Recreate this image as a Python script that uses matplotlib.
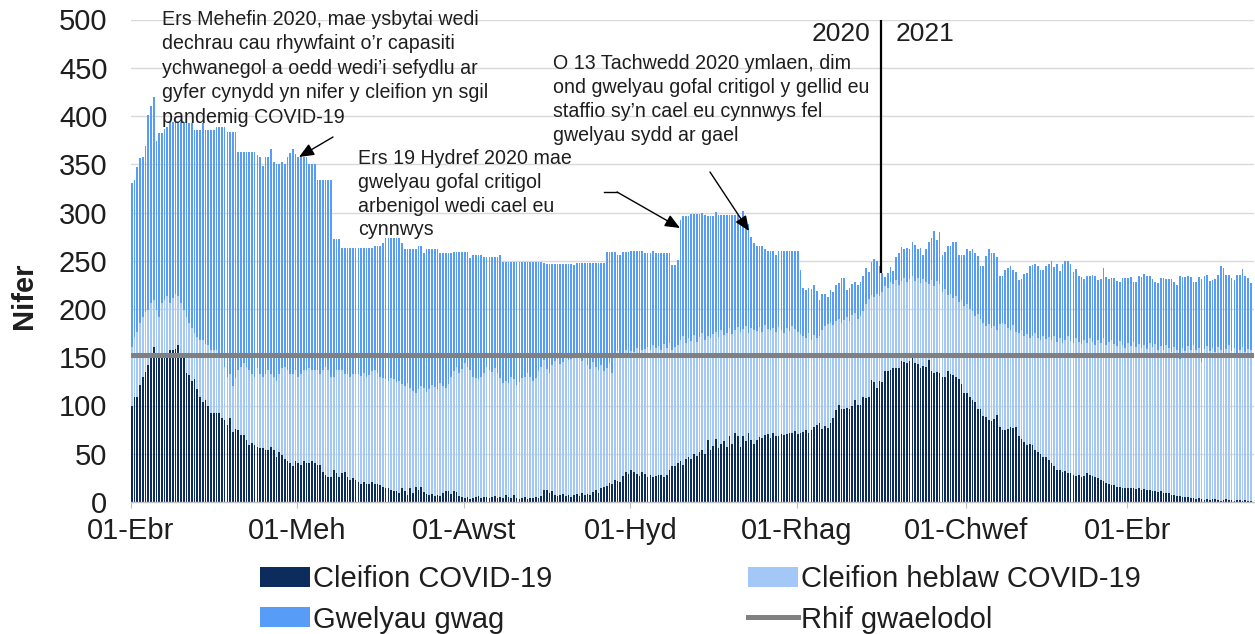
import datetime as dt
import numpy as np
import matplotlib
matplotlib.use("Agg")
import matplotlib.pyplot as plt
from matplotlib.patches import Patch, FancyArrowPatch
from matplotlib.lines import Line2D

plt.rcParams["font.family"] = ["Liberation Sans", "DejaVu Sans"]

# ---------------- data (daily, from 1 April 2020) ----------------
start_date = dt.date(2020, 4, 1)

covid = [
    99, 109, 109, 121, 130, 135, 142, 150, 161, 152,
    150, 150, 150, 150, 157, 157, 159, 163, 150, 150,
    134, 132, 125, 127, 117, 109, 104, 106, 99, 92,
    92, 92, 92, 87, 85, 80, 87, 73, 76, 75,
    69, 69, 64, 59, 61, 59, 57, 56, 56, 54,
    54, 57, 54, 47, 52, 49, 45, 43, 40, 37,
    42, 40, 38, 43, 40, 40, 43, 40, 38, 38,
    31, 28, 26, 26, 33, 30, 26, 30, 31, 26,
    23, 25, 23, 21, 19, 21, 19, 19, 21, 19,
    19, 18, 16, 14, 14, 12, 11, 11, 9, 14,
    11, 7, 14, 9, 16, 12, 16, 10, 8, 7,
    8, 6, 7, 6, 9, 11, 11, 8, 11, 10,
    6, 5, 4, 5, 3, 4, 5, 6, 4, 5,
    5, 4, 5, 6, 4, 5, 4, 7, 5, 4,
    7, 4, 3, 4, 5, 3, 4, 4, 5, 4,
    6, 12, 12, 9, 11, 7, 6, 7, 8, 6,
    7, 5, 7, 8, 6, 9, 7, 8, 7, 10,
    12, 9, 14, 16, 17, 20, 19, 23, 22, 21,
    27, 31, 29, 33, 31, 29, 27, 31, 29, 26,
    28, 26, 27, 28, 28, 26, 28, 33, 37, 37,
    40, 42, 38, 45, 47, 45, 50, 48, 52, 54,
    50, 64, 54, 58, 65, 56, 60, 63, 57, 68,
    60, 71, 68, 57, 68, 63, 71, 64, 60, 64,
    67, 66, 69, 70, 66, 71, 68, 68, 70, 69,
    70, 72, 71, 74, 70, 71, 73, 75, 71, 75,
    78, 80, 82, 76, 79, 77, 82, 87, 95, 101,
    96, 96, 97, 96, 100, 106, 101, 101, 109, 108,
    109, 126, 124, 118, 125, 124, 136, 136, 137, 139,
    139, 139, 146, 145, 144, 146, 149, 144, 143, 139,
    141, 140, 147, 136, 134, 135, 134, 130, 130, 136,
    133, 132, 130, 127, 122, 113, 113, 109, 106, 104,
    96, 96, 89, 88, 85, 84, 86, 90, 78, 75,
    75, 76, 78, 77, 78, 68, 65, 62, 59, 60,
    59, 54, 52, 50, 47, 47, 44, 40, 37, 33,
    33, 31, 32, 30, 30, 28, 27, 28, 26, 27,
    30, 28, 27, 26, 25, 23, 22, 20, 19, 18,
    18, 16, 16, 15, 14, 15, 14, 14, 13, 14,
    12, 13, 12, 12, 11, 11, 10, 11, 9, 9,
    9, 7, 7, 6, 6, 5, 5, 5, 4, 4,
    3, 4, 3, 2, 3, 2, 3, 3, 2, 1,
    2, 3, 2, 2, 1, 2, 2, 1, 2, 1, 1,
]

non_covid = [
    62, 62, 67, 64, 62, 62, 57, 56, 48, 47,
    42, 56, 59, 63, 49, 54, 57, 50, 56, 49,
    58, 53, 55, 48, 54, 59, 64, 58, 64, 66,
    66, 66, 62, 64, 55, 50, 46, 47, 52, 62,
    71, 75, 76, 78, 72, 71, 82, 77, 74, 79,
    83, 76, 76, 78, 81, 90, 95, 94, 93, 96,
    95, 90, 95, 94, 97, 99, 94, 97, 99, 95,
    106, 112, 111, 104, 97, 107, 111, 107, 102, 107,
    107, 108, 110, 112, 112, 113, 111, 113, 115, 118,
    115, 112, 112, 113, 111, 117, 116, 113, 116, 108,
    109, 116, 104, 106, 97, 105, 104, 108, 106, 110,
    113, 113, 110, 117, 111, 107, 111, 122, 125, 130,
    128, 133, 140, 135, 134, 126, 123, 121, 126, 129,
    135, 133, 130, 133, 130, 123, 119, 118, 118, 126,
    120, 117, 121, 124, 125, 131, 126, 121, 124, 132,
    134, 135, 126, 125, 131, 139, 142, 136, 137, 144,
    140, 143, 144, 141, 145, 137, 143, 134, 131, 135,
    128, 128, 128, 120, 122, 124, 115, 129, 134, 130,
    127, 127, 124, 123, 124, 131, 125, 126, 130, 135,
    130, 137, 133, 134, 130, 138, 132, 132, 121, 124,
    123, 126, 134, 120, 123, 122, 123, 118, 119, 121,
    118, 108, 116, 116, 111, 115, 118, 110, 118, 112,
    114, 107, 113, 119, 111, 119, 104, 116, 118, 113,
    114, 110, 114, 109, 112, 109, 108, 113, 108, 106,
    110, 105, 111, 105, 106, 103, 99, 95, 104, 93,
    95, 90, 90, 102, 103, 107, 104, 96, 93, 89,
    90, 93, 95, 92, 94, 90, 89, 92, 89, 97,
    101, 88, 88, 98, 88, 94, 88, 86, 91, 87,
    91, 86, 83, 87, 84, 85, 85, 85, 89, 88,
    90, 88, 79, 94, 90, 94, 92, 88, 91, 78,
    83, 79, 83, 80, 87, 90, 92, 91, 92, 89,
    99, 94, 97, 94, 99, 96, 96, 88, 106, 111,
    109, 104, 100, 106, 98, 107, 113, 110, 115, 110,
    113, 121, 118, 118, 125, 122, 127, 128, 135, 133,
    137, 134, 136, 142, 137, 137, 143, 138, 138, 141,
    135, 142, 139, 137, 143, 142, 148, 143, 147, 150,
    146, 146, 151, 148, 146, 150, 148, 152, 148, 150,
    148, 150, 147, 153, 150, 153, 148, 151, 148, 154,
    151, 148, 154, 152, 142, 155, 151, 157, 154, 159,
    154, 156, 142, 157, 159, 154, 157, 152, 159, 156,
    148, 156, 161, 154, 159, 150, 156, 160, 153, 158, 156,
]

empty_beds = [
    170, 163, 171, 171, 165, 172, 202, 204, 211, 175,
    190, 176, 178, 176, 188, 183, 178, 181, 188, 195,
    209, 208, 213, 210, 214, 217, 225, 222, 223, 228,
    228, 231, 235, 238, 249, 253, 250, 263, 255, 226,
    223, 219, 223, 226, 230, 233, 221, 224, 218, 224,
    220, 233, 222, 225, 217, 213, 210, 220, 229, 233,
    224, 227, 224, 220, 220, 211, 213, 213, 197, 201,
    197, 194, 197, 204, 143, 136, 136, 126, 130, 130,
    133, 130, 130, 130, 132, 129, 133, 131, 127, 128,
    131, 135, 140, 147, 149, 145, 147, 150, 149, 146,
    142, 139, 144, 147, 149, 148, 145, 140, 148, 145,
    141, 143, 145, 135, 138, 140, 136, 128, 123, 119,
    125, 121, 115, 119, 116, 126, 128, 129, 126, 120,
    114, 117, 119, 115, 120, 128, 126, 124, 126, 119,
    122, 128, 125, 121, 119, 115, 119, 124, 120, 113,
    109, 101, 109, 113, 105, 101, 99, 104, 102, 97,
    100, 99, 95, 99, 97, 102, 98, 106, 110, 103,
    108, 111, 106, 112, 120, 115, 125, 107, 100, 105,
    105, 101, 106, 104, 105, 100, 108, 103, 99, 97,
    100, 97, 98, 96, 100, 94, 98, 93, 88, 85,
    88, 124, 124, 131, 126, 131, 125, 132, 127, 125,
    129, 124, 126, 122, 124, 126, 119, 124, 122, 117,
    123, 119, 116, 119, 123, 107, 113, 95, 90, 88,
    84, 89, 79, 81, 82, 80, 80, 79, 82, 85,
    80, 83, 78, 81, 84, 66, 50, 50, 47, 53,
    52, 49, 37, 38, 34, 28, 34, 35, 37, 37,
    46, 43, 28, 34, 32, 32, 35, 35, 36, 37,
    28, 35, 40, 34, 32, 19, 9, 15, 16, 13,
    24, 33, 35, 30, 35, 31, 35, 37, 30, 36,
    25, 34, 43, 44, 57, 43, 54, 38, 38, 51,
    49, 58, 56, 49, 47, 53, 57, 60, 64, 65,
    60, 55, 59, 73, 78, 78, 76, 76, 50, 48,
    56, 62, 67, 57, 62, 55, 53, 64, 63, 75,
    74, 72, 75, 72, 68, 76, 76, 82, 72, 81,
    69, 82, 82, 78, 80, 73, 71, 68, 69, 63,
    69, 64, 69, 71, 62, 66, 72, 70, 65, 64,
    68, 67, 61, 69, 72, 67, 71, 62, 67, 70,
    73, 73, 75, 69, 70, 64, 69, 70, 75, 68,
    71, 76, 67, 67, 86, 73, 77, 72, 75, 65,
    71, 73, 86, 75, 73, 73, 70, 76, 74, 88,
    92, 76, 72, 76, 70, 83, 77, 80, 79, 73, 70,
]

baseline_value = 152

tick_dates = [dt.date(2020, 4, 1), dt.date(2020, 6, 1), dt.date(2020, 8, 1),
              dt.date(2020, 10, 1), dt.date(2020, 12, 1), dt.date(2021, 2, 1),
              dt.date(2021, 4, 1)]
tick_labels = ["01-Ebr", "01-Meh", "01-Awst", "01-Hyd", "01-Rhag", "01-Chwef", "01-Ebr"]
year_split_date = dt.date(2021, 1, 1)

series_labels = ["Cleifion COVID-19", "Cleifion heblaw COVID-19", "Gwelyau gwag",
                 "Rhif gwaelodol"]

# ---------------- styling ----------------
C_COVID = "#0c2c5e"
C_NONCOVID = "#a3c8f8"
C_EMPTY = "#579cf7"
C_BASE = "#808080"
TXT = "#1e1e1e"

W, H = 1255, 634
fig = plt.figure(figsize=(W / 100, H / 100), dpi=100)
ax = fig.add_axes([131 / W, 1 - 502 / H, 1123 / W, (502 - 19.5) / H])

n = len(covid)
x = np.arange(n)
cv = np.array(covid, float)
nc = np.array(non_covid, float)
eb = np.array(empty_beds, float)

bw = 0.62
ax.bar(x, cv, width=bw, align="edge", color=C_COVID, linewidth=0, zorder=2)
ax.bar(x, nc, width=bw, bottom=cv, align="edge", color=C_NONCOVID, linewidth=0, zorder=2)
ax.bar(x, eb, width=bw, bottom=cv + nc, align="edge", color=C_EMPTY, linewidth=0, zorder=2)

ax.axhline(baseline_value, color=C_BASE, linewidth=3.6, zorder=4)

# year divider
split_idx = (year_split_date - start_date).days
total = cv + nc + eb
ax.vlines(split_idx, total[split_idx], 500, color="black", linewidth=1.6, zorder=5)
ax.text(split_idx - 4, 485, "2020", ha="right", va="center", fontsize=19, color=TXT)
ax.text(split_idx + 5, 485, "2021", ha="left", va="center", fontsize=19, color=TXT)

ax.set_xlim(0, 411.5)
ax.set_ylim(0, 500)
ax.set_yticks(np.arange(0, 501, 50))
ax.set_xticks([(d - start_date).days for d in tick_dates])
ax.set_xticklabels(tick_labels)
ax.tick_params(axis="y", length=0, pad=17, labelsize=21, labelcolor=TXT)
ax.tick_params(axis="x", length=4, width=0.8, color="#bfbfbf", pad=7,
               labelsize=21, labelcolor=TXT)
ax.grid(axis="y", color="#d9d9d9", linewidth=1.0)
ax.set_axisbelow(True)
for s in ["top", "right", "left"]:
    ax.spines[s].set_visible(False)
ax.spines["bottom"].set_color("#bfbfbf")
ax.spines["bottom"].set_linewidth(1.0)
ax.set_ylabel("Nifer", fontsize=21, fontweight="bold", color=TXT)
ax.yaxis.set_label_coords((38 - 131) / 1123, (502 - 296) / 482.5)


# ---------------- annotations ----------------
def fxy(px, py):
    return (px / W, 1 - py / H)


ann_fs = 14.1
fig.text(*fxy(162, 10), "Ers Mehefin 2020, mae ysbytai wedi\n"
         "dechrau cau rhywfaint o\u2019r capasiti\n"
         "ychwanegol a oedd wedi\u2019i sefydlu ar\n"
         "gyfer cynydd yn nifer y cleifion yn sgil\n"
         "pandemig COVID-19",
         ha="left", va="top", fontsize=ann_fs, color=TXT, linespacing=1.36)
fig.text(*fxy(358, 149), "Ers 19 Hydref 2020 mae\n"
         "gwelyau gofal critigol\n"
         "arbenigol wedi cael eu\n"
         "cynnwys",
         ha="left", va="top", fontsize=ann_fs, color=TXT, linespacing=1.32)
fig.text(*fxy(553, 54), "O 13 Tachwedd 2020 ymlaen, dim\n"
         "ond gwelyau gofal critigol y gellid eu\n"
         "staffio sy\u2019n cael eu cynnwys fel\n"
         "gwelyau sydd ar gael",
         ha="left", va="top", fontsize=ann_fs, color=TXT, linespacing=1.33)

arrow_kw = dict(arrowstyle="-|>,head_length=0.9,head_width=0.38", color="black",
                linewidth=1.0, shrinkA=0, shrinkB=0, mutation_scale=10)
fig.add_artist(FancyArrowPatch(fxy(333, 137), fxy(299, 157),
                               transform=fig.transFigure, **arrow_kw))
fig.add_artist(Line2D([604 / W, 617 / W], [1 - 192 / H, 1 - 192 / H],
                      transform=fig.transFigure, color="black", linewidth=1.0))
fig.add_artist(FancyArrowPatch(fxy(617, 192), fxy(680, 228),
                               transform=fig.transFigure, **arrow_kw))
fig.add_artist(FancyArrowPatch(fxy(710, 172), fxy(749, 231),
                               transform=fig.transFigure, **arrow_kw))

# ---------------- legend ----------------
handles = [
    Patch(facecolor=C_COVID, edgecolor="none"),
    Patch(facecolor=C_EMPTY, edgecolor="none"),
    Patch(facecolor=C_NONCOVID, edgecolor="none"),
    Line2D([0], [0], color=C_BASE, linewidth=3.6),
]
labels = [series_labels[0], series_labels[2], series_labels[1], series_labels[3]]
fig.legend(handles, labels, ncol=2, loc="upper left",
           bbox_to_anchor=fxy(260, 565), frameon=False, fontsize=21,
           borderpad=0, borderaxespad=0, handlelength=1.72, handleheight=0.68,
           handletextpad=0.1, columnspacing=6.7, labelspacing=0.43,
           labelcolor=TXT)

fig.savefig("out.png", dpi=100)
